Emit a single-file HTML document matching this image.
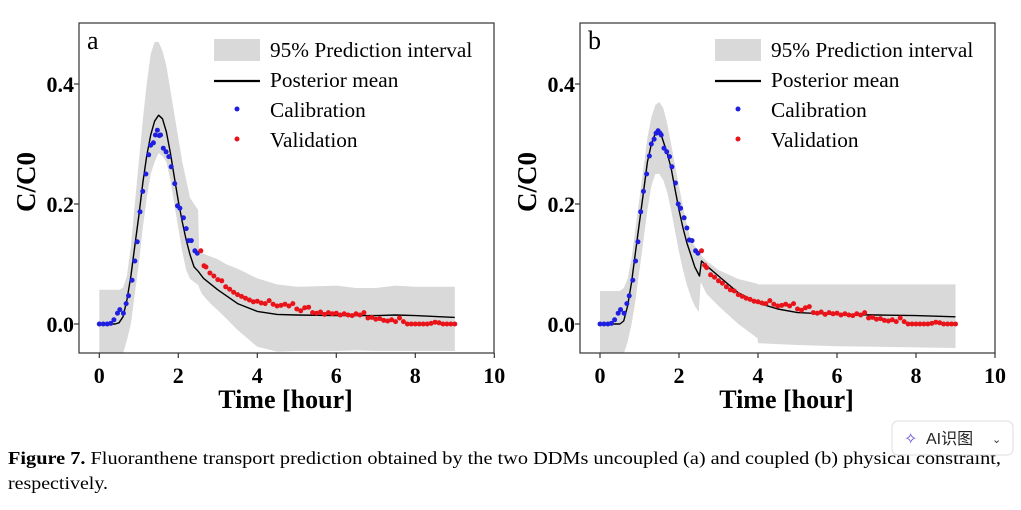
<!DOCTYPE html>
<html><head><meta charset="utf-8">
<style>
html,body{margin:0;padding:0;background:#fff;width:1021px;height:510px;overflow:hidden}
svg{display:block;font-family:"Liberation Serif","Noto Serif CJK SC",serif}
</style></head>
<body>
<svg id="fig" width="1021" height="510" viewBox="0 0 1021 510" xmlns="http://www.w3.org/2000/svg">
<g id="pa"></g>
<g id="pb"></g>
<text x="8" y="464" font-size="18" textLength="993" lengthAdjust="spacingAndGlyphs"><tspan font-weight="bold">Figure 7.</tspan>  Fluoranthene transport prediction obtained by the two DDMs uncoupled (a) and coupled (b) physical constraint,</text>
<text x="8" y="489" font-size="18" textLength="100" lengthAdjust="spacingAndGlyphs">respectively.</text>
<g>
<rect x="892" y="421" width="121" height="34" rx="6" fill="#fff" stroke="#ddd"/>
<text x="904" y="444" font-size="16" fill="#6b4bd8" font-family="DejaVu Sans,sans-serif">✧</text>
<text x="926" y="444" font-size="16" fill="#222" font-family="Liberation Sans,Noto Sans CJK SC,sans-serif">AI识图</text>
<text x="992" y="443" font-size="11" fill="#333" font-family="DejaVu Sans,sans-serif">⌄</text>
</g>
</svg>
<script>
// ---------- data ----------
const calTimeA = [0,0.1,0.2,0.29,0.37,0.46,0.52,0.61,0.68,0.74,0.83,0.9,0.96,1.03,1.1,1.18,1.25,1.3,1.37,1.42,1.47,1.52,1.55,1.62,1.69,1.76,1.82,1.91,1.98,2.04,2.13,2.2,2.26,2.33,2.42,2.48];
const calValA  = [0,0,0,0.001,0.007,0.018,0.024,0.018,0.034,0.047,0.073,0.105,0.137,0.187,0.221,0.25,0.282,0.298,0.302,0.315,0.323,0.314,0.315,0.293,0.287,0.279,0.262,0.234,0.197,0.193,0.177,0.159,0.139,0.139,0.122,0.118];
const calValB  = [0,0,0,0.001,0.007,0.018,0.024,0.018,0.034,0.047,0.073,0.105,0.137,0.187,0.221,0.25,0.28,0.3,0.308,0.318,0.322,0.318,0.315,0.293,0.287,0.279,0.262,0.235,0.2,0.193,0.177,0.16,0.14,0.139,0.122,0.118];
const valTime = [2.57,2.65,2.7,2.8,2.9,3.0,3.1,3.2,3.3,3.4,3.5,3.6,3.7,3.8,3.9,4.0,4.1,4.2,4.3,4.4,4.5,4.6,4.7,4.8,4.9,5.0,5.1,5.2,5.3,5.4,5.5,5.6,5.7,5.8,5.9,6.0,6.1,6.2,6.3,6.4,6.5,6.6,6.7,6.8,6.9,7.0,7.1,7.2,7.3,7.4,7.5,7.6,7.7,7.8,7.9,8.0,8.1,8.2,8.3,8.4,8.5,8.6,8.7,8.8,8.9,9.0];
const valValA = [0.122,0.097,0.095,0.085,0.080,0.074,0.072,0.062,0.058,0.053,0.049,0.046,0.043,0.040,0.037,0.038,0.035,0.034,0.039,0.033,0.030,0.031,0.033,0.030,0.034,0.025,0.022,0.027,0.028,0.019,0.018,0.020,0.016,0.019,0.017,0.018,0.015,0.017,0.015,0.014,0.017,0.015,0.019,0.010,0.011,0.008,0.009,0.006,0.005,0.007,0.004,0.010,0.004,0.000,0.000,0.000,0.000,0.000,0.000,0.001,0.003,0.002,0.000,0.000,0.000,0.000];
const valValB = [0.122,0.098,0.094,0.082,0.078,0.072,0.068,0.062,0.057,0.055,0.049,0.046,0.043,0.041,0.038,0.037,0.035,0.034,0.039,0.033,0.030,0.031,0.033,0.030,0.034,0.025,0.023,0.027,0.029,0.019,0.018,0.020,0.016,0.019,0.017,0.018,0.015,0.017,0.015,0.014,0.017,0.015,0.019,0.010,0.011,0.008,0.009,0.006,0.005,0.007,0.004,0.010,0.004,0.000,0.000,0.000,0.000,0.000,0.000,0.001,0.003,0.002,0.000,0.000,0.000,0.000];
const meanTimeA = [0,0.4,0.5,0.6,0.7,0.8,0.9,1.0,1.1,1.2,1.3,1.4,1.5,1.6,1.7,1.8,1.9,2.0,2.1,2.2,2.3,2.4,2.5,2.64,3.0,3.5,4.0,4.5,5.0,6.0,7.0,7.5,8.0,9.0];
const meanValA  = [0,0,0.002,0.012,0.04,0.08,0.13,0.18,0.235,0.28,0.315,0.338,0.348,0.342,0.32,0.285,0.245,0.205,0.17,0.14,0.115,0.095,0.088,0.076,0.057,0.034,0.021,0.016,0.015,0.014,0.014,0.015,0.014,0.011];
const meanTimeB = [0,0.5,0.6,0.7,0.8,0.9,1.0,1.1,1.2,1.3,1.4,1.47,1.55,1.7,1.8,1.9,2.0,2.1,2.2,2.3,2.4,2.52,2.57,2.7,3.0,3.5,4.0,4.5,5.0,6.0,7.0,8.0,9.0];
const meanValB  = [0,0,0.005,0.03,0.07,0.12,0.17,0.22,0.27,0.3,0.318,0.322,0.315,0.285,0.26,0.225,0.19,0.16,0.135,0.115,0.095,0.08,0.105,0.097,0.08,0.052,0.035,0.025,0.019,0.016,0.015,0.014,0.012];
const bandTimeA  = [0,0.5,0.6,0.7,0.8,0.9,1.0,1.1,1.2,1.3,1.4,1.5,1.6,1.7,1.8,1.9,2.0,2.1,2.2,2.3,2.4,2.5,2.53,2.6,2.8,3.0,3.2,3.5,4.0,4.5,5.0,5.5,6.0,6.5,7.0,7.5,8.0,8.5,9.0];
const bandUpperA = [0.057,0.057,0.06,0.08,0.13,0.2,0.27,0.34,0.4,0.45,0.47,0.47,0.455,0.43,0.39,0.35,0.31,0.27,0.24,0.21,0.2,0.19,0.12,0.118,0.113,0.108,0.1,0.092,0.076,0.066,0.062,0.063,0.064,0.06,0.06,0.064,0.062,0.062,0.062];
const bandLowerA = [-0.12,-0.1,-0.049,-0.027,0.0,0.05,0.1,0.16,0.21,0.25,0.27,0.285,0.28,0.27,0.24,0.2,0.16,0.12,0.09,0.075,0.07,0.065,0.06,0.05,0.035,0.023,0.01,-0.01,-0.038,-0.046,-0.045,-0.045,-0.045,-0.044,-0.045,-0.045,-0.045,-0.045,-0.045];
const bandTimeB  = [0,0.5,0.6,0.7,0.8,0.9,1.0,1.1,1.2,1.3,1.4,1.5,1.6,1.7,1.8,1.9,2.0,2.1,2.2,2.3,2.4,2.5,2.55,2.7,3.0,3.5,3.99,4.0,5.0,6.0,7.0,8.0,9.0];
const bandUpperB = [0.055,0.055,0.06,0.075,0.11,0.16,0.21,0.26,0.31,0.345,0.365,0.37,0.36,0.335,0.3,0.265,0.23,0.195,0.165,0.14,0.13,0.122,0.115,0.105,0.09,0.075,0.067,0.066,0.066,0.066,0.066,0.066,0.066];
const bandLowerB = [-0.12,-0.1,-0.05,-0.03,0.0,0.04,0.09,0.14,0.19,0.23,0.25,0.25,0.24,0.22,0.19,0.155,0.12,0.09,0.065,0.045,0.03,0.02,0.07,0.05,0.03,0.0,-0.024,-0.032,-0.035,-0.037,-0.038,-0.039,-0.04];
const xTicks = [0,2,4,6,8,10];
const yTicks = [0.0,0.2,0.4];
const yTickLabels = ["0.0","0.2","0.4"];

const NS="http://www.w3.org/2000/svg";
function mk(parent,tag,attrs,text){const e=document.createElementNS(NS,tag);for(const k in attrs)e.setAttribute(k,attrs[k]);if(text!==undefined)e.textContent=text;parent.appendChild(e);return e;}

function panel(gid, L, R, x0px, letter, band, mean, cal, val){
  const g=document.getElementById(gid);
  const T=23,B=353;
  const xs=v=>x0px+v*39.5;
  const ys=v=>324-v*600;
  const clipId=gid+"-clip";
  const defs=mk(g,'defs',{});
  const cp=mk(defs,'clipPath',{id:clipId});
  mk(cp,'rect',{x:L,y:T,width:R-L,height:B-T});
  const plot=mk(g,'g',{'clip-path':'url(#'+clipId+')'});
  let d='';
  band.t.forEach((t,i)=>{d+=(i?'L':'M')+xs(t).toFixed(1)+','+ys(band.u[i]).toFixed(1);});
  for(let i=band.t.length-1;i>=0;i--)d+='L'+xs(band.t[i]).toFixed(1)+','+ys(band.l[i]).toFixed(1);
  const bp=mk(plot,'path',{d:d+'Z',fill:'#d9d9d9'});
  
  
  let md='';
  mean.t.forEach((t,i)=>{md+=(i?'L':'M')+xs(t).toFixed(1)+','+ys(mean.v[i]).toFixed(1);});
  const ml=mk(plot,'path',{d:md,fill:'none',stroke:'#000','stroke-width':1.4,'stroke-linejoin':'round'});
  
  
  cal.t.forEach((t,i)=>{
    const c=mk(plot,'circle',{cx:xs(t),cy:ys(cal.v[i]),r:2.5,fill:'#1f1fe0'});
    
    
  });
  val.t.forEach((t,i)=>{
    const c=mk(plot,'circle',{cx:xs(t),cy:ys(val.v[i]),r:2.5,fill:'#e8141a'});
    
    
  });
  const fr=mk(g,'rect',{x:L,y:T,width:R-L,height:B-T,fill:'none',stroke:'#333','stroke-width':1.2});
  
  
  xTicks.forEach(v=>{
    mk(g,'line',{x1:xs(v),x2:xs(v),y1:B,y2:B+5,stroke:'#333','stroke-width':1.2});
    const t=mk(g,'text',{x:xs(v),y:B+30,'font-size':22,'font-weight':'bold','text-anchor':'middle'},String(v));
    
    
  });
  yTicks.forEach((v,i)=>{
    mk(g,'line',{x1:L-5,x2:L,y1:ys(v),y2:ys(v),stroke:'#333','stroke-width':1.2});
    const t=mk(g,'text',{x:L-5,y:ys(v)+8,'font-size':22,'font-weight':'bold','text-anchor':'end'},yTickLabels[i]);
    
    
  });
  const xt=mk(g,'text',{x:(L+R)/2-1,y:408,'font-size':26,'font-weight':'bold','text-anchor':'middle'},'Time [hour]');
  
  
  const yt=mk(g,'text',{x:0,y:0,'font-size':27,'font-weight':'bold','text-anchor':'middle',transform:'translate('+(L-44)+',182) rotate(-90)'},'C/C0');
  
  
  const pl=mk(g,'text',{x:L+8,y:49,'font-size':26},letter);
  
  
  const lg=mk(g,'g',{});
  
  
  const lx=L+135;
  mk(lg,'rect',{x:lx,y:39,width:46,height:22,fill:'#d9d9d9'});
  mk(lg,'line',{x1:lx,x2:lx+46,y1:81,y2:81,stroke:'#000','stroke-width':2.2});
  mk(lg,'circle',{cx:lx+23,cy:109,r:2.5,fill:'#1f1fe0'});
  mk(lg,'circle',{cx:lx+23,cy:139,r:2.5,fill:'#e8141a'});
  const labels=['95% Prediction interval','Posterior mean','Calibration','Validation'];
  labels.forEach((s,i)=>{
    const t=mk(lg,'text',{x:lx+56,y:57+i*30,'font-size':21.3},s);
    
    
  });
}
panel('pa',79,494,99.3,'a',{t:bandTimeA,u:bandUpperA,l:bandLowerA},{t:meanTimeA,v:meanValA},{t:calTimeA,v:calValA},{t:valTime,v:valValA});
panel('pb',580,995,600,'b',{t:bandTimeB,u:bandUpperB,l:bandLowerB},{t:meanTimeB,v:meanValB},{t:calTimeA,v:calValB},{t:valTime,v:valValB});
</script>
</body></html>
